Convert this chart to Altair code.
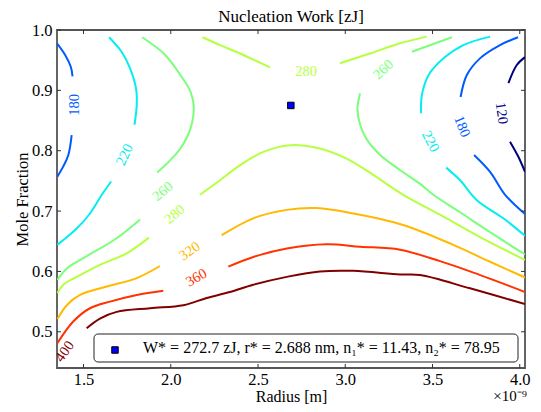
import altair as alt
import pandas as pd

FONT = "Liberation Serif"

# contour levels and colours (jet over 120..400)
LEVELS = [120, 180, 220, 260, 280, 320, 360, 400]
COLORS = ["#000080", "#005bff", "#06edf1", "#7bff7b", "#b6ff41", "#ffb900", "#ff3200", "#800000"]

XTICKS = [1.5, 2.0, 2.5, 3.0, 3.5, 4.0]
YTICKS = [0.5, 0.6, 0.7, 0.8, 0.9, 1.0]

# contour segments: (radius [1e-9 m], mole fraction)
C120_UP = [(4.030, 0.955), (3.983, 0.942), (3.935, 0.912)]
C120_LO = [(3.944, 0.815), (3.992, 0.790), (4.030, 0.765)]
C180_LU = [(1.348, 0.978), (1.394, 0.959), (1.427, 0.939), (1.437, 0.923)]
C180_LL = [(1.432, 0.826), (1.413, 0.793), (1.384, 0.774), (1.350, 0.757)]
C180_RU = [(3.990, 0.988), (3.887, 0.975), (3.772, 0.953), (3.696, 0.925), (3.661, 0.889)]
C180_RL = [(3.738, 0.793), (3.830, 0.765), (3.916, 0.727), (4.030, 0.695)]
C220_LU = [(1.646, 0.988), (1.718, 0.964), (1.766, 0.937), (1.801, 0.903), (1.805, 0.876), (1.792, 0.843)]
C220_LL = [(1.658, 0.749), (1.605, 0.727), (1.537, 0.696), (1.461, 0.671), (1.350, 0.644)]
C220_RU = [(3.830, 0.989), (3.677, 0.975), (3.563, 0.953), (3.477, 0.925), (3.439, 0.892), (3.434, 0.862)]
C220_RL = [(3.578, 0.772), (3.658, 0.751), (3.754, 0.718), (3.906, 0.688), (4.030, 0.659)]
C260_LU = [(1.836, 0.988), (1.960, 0.961), (2.056, 0.925), (2.113, 0.898), (2.132, 0.873),
           (2.113, 0.837), (2.056, 0.804), (1.979, 0.779), (1.922, 0.764)]
C260_LL = [(1.824, 0.686), (1.690, 0.655), (1.499, 0.622), (1.404, 0.605), (1.350, 0.586)]
C260_RT = [(3.382, 0.964), (3.611, 0.988)]
C260_RL = [(3.085, 0.895), (3.070, 0.870), (3.085, 0.843), (3.125, 0.818), (3.200, 0.793),
           (3.314, 0.768), (3.429, 0.745), (3.505, 0.727), (3.658, 0.698), (3.830, 0.665), (4.030, 0.628)]
C280_TL = [(2.182, 0.988), (2.282, 0.975), (2.397, 0.961), (2.569, 0.938)]
C280_TR = [(2.970, 0.945), (3.142, 0.961), (3.314, 0.978), (3.467, 0.989)]
C280_BL = [(1.875, 0.656), (1.747, 0.630), (1.594, 0.611), (1.461, 0.591), (1.384, 0.578), (1.350, 0.564)]
C280_BR = [(2.167, 0.727), (2.282, 0.751), (2.397, 0.776), (2.531, 0.798), (2.683, 0.809), (2.836, 0.805),
           (3.008, 0.787), (3.160, 0.760), (3.332, 0.727), (3.543, 0.694), (3.772, 0.657), (4.030, 0.619)]
C320_L = [(1.938, 0.609), (1.805, 0.589), (1.633, 0.575), (1.480, 0.561), (1.404, 0.544), (1.350, 0.521)]
C320_R = [(2.292, 0.660), (2.473, 0.688), (2.665, 0.702), (2.836, 0.705), (3.046, 0.696),
          (3.332, 0.677), (3.619, 0.644), (3.830, 0.616), (4.030, 0.590)]
C360_L = [(1.957, 0.568), (1.805, 0.561), (1.652, 0.550), (1.537, 0.539), (1.441, 0.517), (1.350, 0.481)]
C360_R = [(2.330, 0.608), (2.473, 0.624), (2.665, 0.638), (2.894, 0.645), (3.085, 0.641),
          (3.314, 0.636), (3.543, 0.617), (3.715, 0.600), (4.030, 0.566)]
C400 = [(1.518, 0.506), (1.594, 0.522), (1.690, 0.533), (1.881, 0.539), (2.072, 0.544), (2.206, 0.556),
        (2.339, 0.566), (2.473, 0.578), (2.665, 0.591), (2.855, 0.600), (3.046, 0.601), (3.314, 0.595),
        (3.429, 0.594), (3.715, 0.572), (4.030, 0.546)]

SEGMENTS = [
    (120, C120_UP), (120, C120_LO),
    (180, C180_LU), (180, C180_LL), (180, C180_RU), (180, C180_RL),
    (220, C220_LU), (220, C220_LL), (220, C220_RU), (220, C220_RL),
    (260, C260_LU), (260, C260_LL), (260, C260_RT), (260, C260_RL),
    (280, C280_TL), (280, C280_TR), (280, C280_BL), (280, C280_BR),
    (320, C320_L), (320, C320_R),
    (360, C360_L), (360, C360_R),
    (400, C400),
]

# inline contour labels
LABEL_TEXT = ["180", "220", "260", "280", "320", "360", "400", "280", "260", "220", "180", "120"]
LABEL_LEVEL = [180, 220, 260, 280, 320, 360, 400, 280, 260, 220, 180, 120]
LABEL_R = [1.451, 1.738, 1.956, 2.024, 2.110, 2.148, 1.394, 2.775, 3.220, 3.486, 3.667, 3.894]
LABEL_X = [0.876, 0.793, 0.732, 0.694, 0.633, 0.589, 0.467, 0.931, 0.934, 0.815, 0.840, 0.862]
LABEL_ANGLE = [270, 295, 320, 320, 325, 330, 305, 0, 317, 62, 68, 82]

# critical point
STAR_R = [2.688]
STAR_X = [0.875]
TITLE = "Nucleation Work [zJ]"
LEGEND_TEXT = "W* = 272.7 zJ, r* = 2.688 nm, n\u2081* = 11.43, n\u2082* = 78.95"

W, H = 468, 338
XDOM = [1.348, 4.03]
YDOM = [0.44, 1.0]

rows = []
for i, (lev, pts) in enumerate(SEGMENTS):
    for j, (r, xm) in enumerate(pts):
        rows.append({"seg": i, "level": lev, "order": j, "r": r, "xm": xm})
lines_df = pd.DataFrame(rows)

labels_df = pd.DataFrame({"text": LABEL_TEXT, "level": LABEL_LEVEL, "r": LABEL_R,
                          "xm": LABEL_X, "angle": LABEL_ANGLE})
star_df = pd.DataFrame({"r": STAR_R, "xm": STAR_X})
tx = pd.DataFrame({"r": XTICKS})
ty = pd.DataFrame({"xm": YTICKS})
one = pd.DataFrame({"a": [0]})

xscale = alt.Scale(domain=XDOM, nice=False, zero=False)
yscale = alt.Scale(domain=YDOM, nice=False, zero=False)
cscale = alt.Scale(domain=LEVELS, range=COLORS)

xaxis = alt.Axis(values=XTICKS, format=".1f", grid=False, domain=False, ticks=False, tickSize=0,
                 labelFont=FONT, labelFontSize=16.5, labelColor="black", labelPadding=3,
                 title="Radius [m]", titleFont=FONT, titleFontSize=16, titleFontWeight="normal",
                 titleColor="black", titleX=W / 2, titleY=28, titleBaseline="middle", titleAlign="center")
yaxis = alt.Axis(values=YTICKS, format=".1f", grid=False, domain=False, ticks=False, tickSize=0,
                 labelFont=FONT, labelFontSize=16.5, labelColor="black", labelPadding=5,
                 title="Mole Fraction", titleFont=FONT, titleFontSize=16.5, titleFontWeight="normal",
                 titleColor="black", titleX=-35, titleY=H / 2, titleBaseline="middle",
                 titleAlign="center", titleAngle=270)


def X(field="r"):
    return alt.X(f"{field}:Q", scale=xscale, axis=xaxis)


def Y(field="xm"):
    return alt.Y(f"{field}:Q", scale=yscale, axis=yaxis)


lines = alt.Chart(lines_df).mark_line(strokeWidth=2, interpolate="catmull-rom", clip=True).encode(
    x=X(), y=Y(),
    color=alt.Color("level:N", scale=cscale, legend=None),
    detail="seg:N",
    order="order:Q",
)

labels = alt.Chart(labels_df).mark_text(font=FONT, fontSize=14.5, align="center", baseline="middle").encode(
    x=X(), y=Y(),
    text="text:N",
    angle=alt.Angle("angle:Q", scale=None),
    color=alt.Color("level:N", scale=cscale, legend=None),
)

star = alt.Chart(star_df).mark_square(size=42, color="#0000ff", stroke="black", strokeWidth=1,
                                      opacity=1, filled=True).encode(x=X(), y=Y())

# ticks pointing inward on all four sides
tick_style = dict(color="#333333", strokeWidth=1)
tick_b = alt.Chart(tx).mark_rule(**tick_style).encode(x=X(), y=alt.value(H - 4), y2=alt.value(H))
tick_t = alt.Chart(tx).mark_rule(**tick_style).encode(x=X(), y=alt.value(0), y2=alt.value(4))
tick_l = alt.Chart(ty).mark_rule(**tick_style).encode(y=Y(), x=alt.value(0), x2=alt.value(4))
tick_r = alt.Chart(ty).mark_rule(**tick_style).encode(y=Y(), x=alt.value(W - 4), x2=alt.value(W))

# legend box
leg_box = alt.Chart(one).mark_rect(fill="white", stroke="#222222", strokeWidth=1, cornerRadius=4).encode(
    x=alt.value(37), x2=alt.value(461), y=alt.value(304), y2=alt.value(332))
leg_mark = alt.Chart(one).mark_square(size=42, color="#0000ff", stroke="black", strokeWidth=1,
                                      opacity=1, filled=True).encode(
    x=alt.value(58), y=alt.value(320))
leg_text = alt.Chart(one).mark_text(font=FONT, fontSize=16, align="left", baseline="middle",
                                    color="black").encode(
    x=alt.value(86), y=alt.value(318), text=alt.value(LEGEND_TEXT))

offset_text = alt.Chart(one).mark_text(font=FONT, fontSize=15, align="right", baseline="middle",
                                       color="black").encode(
    x=alt.value(W + 2), y=alt.value(H + 27.5), text=alt.value("\u00d710\u207b\u2079"))

title_text = alt.Chart(one).mark_text(font=FONT, fontSize=17, align="center", baseline="alphabetic",
                                      color="black").encode(
    x=alt.value(W / 2), y=alt.value(-8.5), text=alt.value(TITLE))

chart = alt.layer(
    lines, labels, star, tick_b, tick_t, tick_l, tick_r, leg_box, leg_mark, leg_text, offset_text,
    title_text
).properties(
    width=W, height=H,
    autosize=alt.AutoSizeParams(type="none"),
    padding={"left": 49, "top": 22, "right": 8, "bottom": 36},
).configure_view(stroke="#555555", strokeWidth=1.8)

chart.save("out.html", embed_options={"renderer": "svg", "actions": False})
